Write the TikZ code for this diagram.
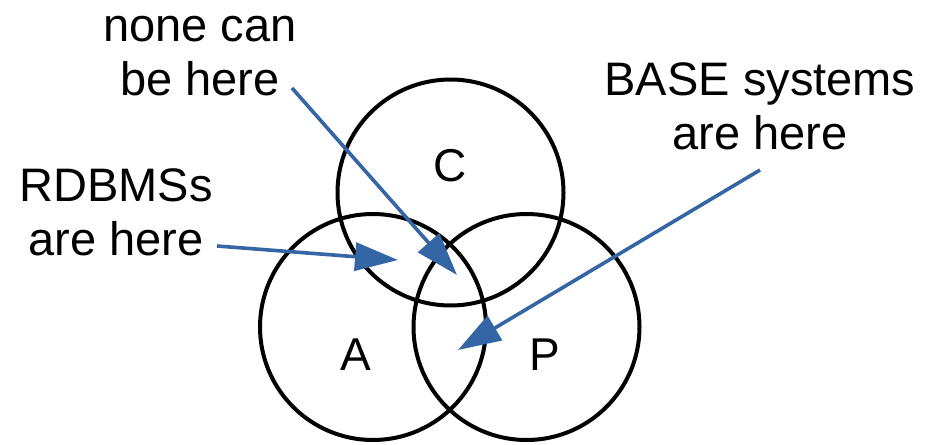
\documentclass[tikz,border=0pt]{standalone}
\usepackage{fontspec}
\setmainfont{Liberation Sans}
\usetikzlibrary{arrows.meta}
\definecolor{arrowblue}{HTML}{3465A4}
\begin{document}
\begin{tikzpicture}[x=1pt,y=-1pt,
  setcircle/.style={circle,draw=black,line width=4pt,minimum size=226pt,inner sep=0pt},
  lbl/.style={font=\fontsize{47}{54}\selectfont,align=center,inner sep=0pt,anchor=base},
  letter/.style={font=\fontsize{46}{52}\selectfont,inner sep=0pt,anchor=base},
  pointer/.style={draw=arrowblue,line width=3.6pt,-{Triangle[length=43pt,width=28pt]},arrowblue}]
\useasboundingbox (0,0) rectangle (933,444);
\node[setcircle] (C) at (450.5,192.5) {};
\node[setcircle] (A) at (373,327) {};
\node[setcircle] (P) at (526.5,327) {};
\node[letter] (lc) at (450,181) {C};
\node[letter] (la) at (356,370) {A};
\node[letter] (lp) at (545,370) {P};
\node[lbl] (t1) at (200,95) {none can\\be here};
\node[lbl] (t2) at (116,255) {RDBMSs\\are here};
\node[lbl] (t3) at (760,149) {BASE systems\\are here};
\coordinate (s1) at (292,88);
\coordinate (e1) at (457,275);
\coordinate (s2) at (217,246);
\coordinate (e2) at (398,260);
\coordinate (s3) at (760,170);
\coordinate (e3) at (458,350);
\draw[pointer] (s1) -- (e1);
\draw[pointer] (s2) -- (e2);
\draw[pointer] (s3) -- (e3);
\end{tikzpicture}
\end{document}
